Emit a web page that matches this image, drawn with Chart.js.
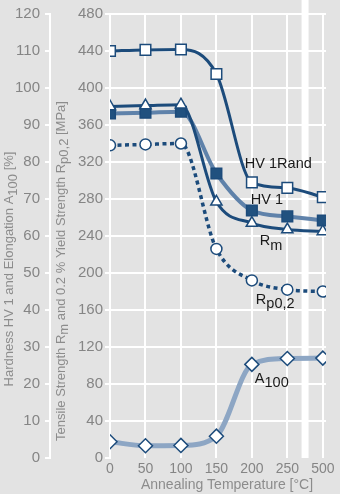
<!DOCTYPE html>
<html>
<head>
<meta charset="utf-8">
<script src="https://cdn.jsdelivr.net/npm/chart.js@4.4.1/dist/chart.umd.min.js"></script>
<style>
  html, body { margin: 0; padding: 0; background: #e3e3e3; }
  #wrap { width: 340px; height: 494px; }
</style>
</head>
<body>
<div id="wrap"><canvas id="c" width="340" height="494"></canvas></div>
<script>
// Annealing temperatures (°C) – equally spaced categories, axis broken before 500
const temperatures = ['0', '50', '100', '150', '200', '250', '500'];

// Hardness HV 1 at the edge ("Rand") and in the core
const hv1Rand = [110.0, 110.3, 110.4, 103.8, 74.5, 73.0, 70.5];
const hv1     = [93.1, 93.3, 93.6, 76.9, 66.9, 65.3, 64.2];

// Tensile strength Rm and 0.2 % yield strength Rp0,2 in MPa
const rm   = [380, 381, 382, 277, 254, 247, 245];
const rp02 = [338, 339, 340, 226, 192, 182, 180];

// Elongation A100 in %
const a100 = [4.4, 3.3, 3.4, 5.9, 25.3, 26.9, 27.0];

// Tick values of the two left-hand axes
const hardnessTicks = [0, 10, 20, 30, 40, 50, 60, 70, 80, 90, 100, 110, 120];
const strengthTicks = [0, 40, 80, 120, 160, 200, 240, 280, 320, 360, 400, 440, 480];

const BG = '#e3e3e3';
const DARK = '#1c4b7b';
const MID = '#5f82aa';
const LIGHT = '#8da6c4';
const TICK_GREY = '#858585';
const TEXT_FONT = '"Liberation Sans", Arial, sans-serif';

const toPoints = arr => arr.map((v, i) => ({ x: i, y: v }));

// Draws a run of text pieces, some of them lowered as subscripts
function richText(ctx, parts, x, y, size, align) {
  ctx.font = size + 'px ' + TEXT_FONT;
  let total = 0;
  parts.forEach(p => { total += ctx.measureText(p.t).width; });
  let cx = align === 'center' ? x - total / 2 : x;
  ctx.textAlign = 'left';
  parts.forEach(p => {
    ctx.fillText(p.t, cx, y + (p.sub ? size * 0.3 : 0));
    cx += ctx.measureText(p.t).width;
  });
}

const decorations = {
  id: 'decorations',
  beforeDraw(chart) {
    const ctx = chart.ctx;
    ctx.save();
    ctx.fillStyle = BG;
    ctx.fillRect(0, 0, chart.width, chart.height);
    ctx.restore();
  },
  beforeDatasetsDraw(chart) {
    // white band marking the break of the temperature axis between 250 and 500
    const ctx = chart.ctx, xs = chart.scales.x, area = chart.chartArea;
    const mid = (xs.getPixelForValue(5) + xs.getPixelForValue(6)) / 2;
    ctx.save();
    ctx.fillStyle = '#ffffff';
    ctx.fillRect(mid - 3.5, 0, 7, area.bottom);
    ctx.restore();
  },
  afterDraw(chart) {
    const ctx = chart.ctx, xs = chart.scales.x, ys = chart.scales.yS, yh = chart.scales.yH;
    const area = chart.chartArea;
    ctx.save();

    // axis titles
    ctx.fillStyle = '#8c8c8c';
    ctx.textBaseline = 'middle';
    const cy = area.top + 255;
    ctx.save();
    ctx.translate(yh.left + 9.5, cy);
    ctx.rotate(-Math.PI / 2);
    richText(ctx, [
      { t: 'Hardness HV 1 and Elongation A' },
      { t: '100', sub: true },
      { t: ' [%]' }
    ], 0, 0, 13, 'center');
    ctx.restore();

    ctx.save();
    ctx.translate(ys.left + 11, cy + 2);
    ctx.rotate(-Math.PI / 2);
    richText(ctx, [
      { t: 'Tensile Strength R' },
      { t: 'm', sub: true },
      { t: ' and 0.2 % Yield Strength R' },
      { t: 'p0,2', sub: true },
      { t: ' [MPa]' }
    ], 0, 0, 13, 'center');
    ctx.restore();

    ctx.textBaseline = 'middle';
    richText(ctx, [{ t: 'Annealing Temperature [°C]' }], area.left + 117, area.bottom + 27, 14, 'center');

    // series labels
    ctx.fillStyle = '#1a1a1a';
    ctx.textBaseline = 'alphabetic';
    const x200 = xs.getPixelForValue(4);
    const lbl = [
      { parts: [{ t: 'HV 1Rand' }], dx: -7, v: 314 },
      { parts: [{ t: 'HV 1' }], dx: -1, v: 275 },
      { parts: [{ t: 'R' }, { t: 'm', sub: true }], dx: 8, v: 230 },
      { parts: [{ t: 'R' }, { t: 'p0,2', sub: true }], dx: 4, v: 167 },
      { parts: [{ t: 'A' }, { t: '100', sub: true }], dx: 3, v: 81 }
    ];
    lbl.forEach(l => richText(ctx, l.parts, x200 + l.dx, ys.getPixelForValue(l.v), 14.5, 'left'));
    ctx.restore();
  }
};

const common = {
  fill: false,
  cubicInterpolationMode: 'monotone',
  pointBorderColor: DARK,
  pointBorderWidth: 1.5,
  pointHoverRadius: 0
};

new Chart(document.getElementById('c'), {
  type: 'line',
  data: {
    datasets: [
      Object.assign({}, common, {
        label: 'HV 1Rand', data: toPoints(hv1Rand), yAxisID: 'yH',
        borderColor: DARK, borderWidth: 3,
        pointStyle: 'rect', pointRadius: 7.5, pointBackgroundColor: '#ffffff'
      }),
      Object.assign({}, common, {
        label: 'Rm', data: toPoints(rm), yAxisID: 'yS',
        borderColor: DARK, borderWidth: 3,
        pointStyle: 'triangle', pointRadius: 6.5, pointBackgroundColor: '#ffffff'
      }),
      Object.assign({}, common, {
        label: 'HV 1', data: toPoints(hv1), yAxisID: 'yH',
        borderColor: MID, borderWidth: 4,
        pointStyle: 'rect', pointRadius: 7.5, pointBackgroundColor: '#21517f'
      }),
      Object.assign({}, common, {
        label: 'Rp0,2', data: toPoints(rp02), yAxisID: 'yS',
        borderColor: DARK, borderWidth: 3.5, borderDash: [4, 3.5], borderCapStyle: 'butt',
        pointStyle: 'circle', pointRadius: 5.5, pointBackgroundColor: '#ffffff'
      }),
      Object.assign({}, common, {
        label: 'A100', data: toPoints(a100), yAxisID: 'yH',
        borderColor: LIGHT, borderWidth: 5,
        pointStyle: 'rectRot', pointRadius: 7, pointBackgroundColor: '#ffffff'
      })
    ]
  },
  options: {
    responsive: false,
    animation: false,
    devicePixelRatio: 1,
    layout: { padding: { top: 13, right: 14, left: 0, bottom: 0 } },
    plugins: { legend: { display: false }, tooltip: { enabled: false } },
    events: [],
    scales: {
      x: {
        type: 'linear', min: 0, max: 6.09,
        afterBuildTicks: s => { s.ticks = temperatures.map((t, i) => ({ value: i })); },
        afterFit: s => { s.height = 36; },
        ticks: {
          callback: (v, i) => temperatures[i],
          color: TICK_GREY, font: { family: TEXT_FONT, size: 14 },
          padding: 3, maxRotation: 0, autoSkip: false
        },
        grid: { color: '#ffffff', lineWidth: 2, drawTicks: false },
        border: { display: false }
      },
      yS: {
        position: 'left', weight: 0, min: 0, max: 480,
        afterBuildTicks: s => { s.ticks = strengthTicks.map(v => ({ value: v })); },
        afterFit: s => { s.width = 60; },
        ticks: { color: TICK_GREY, font: { family: TEXT_FONT, size: 15 }, padding: 2 },
        grid: {
          color: c => (c.tick && c.tick.value === 0 ? 'rgba(0,0,0,0)' : '#ffffff'),
          tickColor: '#ffffff', tickLength: 5, lineWidth: 2
        },
        border: { color: '#ffffff', width: 2 }
      },
      yH: {
        position: 'left', weight: 1, min: 0, max: 120,
        afterBuildTicks: s => { s.ticks = hardnessTicks.map(v => ({ value: v })); },
        afterFit: s => { s.width = 50; },
        ticks: { color: TICK_GREY, font: { family: TEXT_FONT, size: 15 }, padding: 5 },
        grid: { drawOnChartArea: false, color: '#ffffff', tickLength: 5, lineWidth: 2 },
        border: { color: '#ffffff', width: 2 }
      }
    }
  },
  plugins: [decorations]
});
</script>
</body>
</html>
